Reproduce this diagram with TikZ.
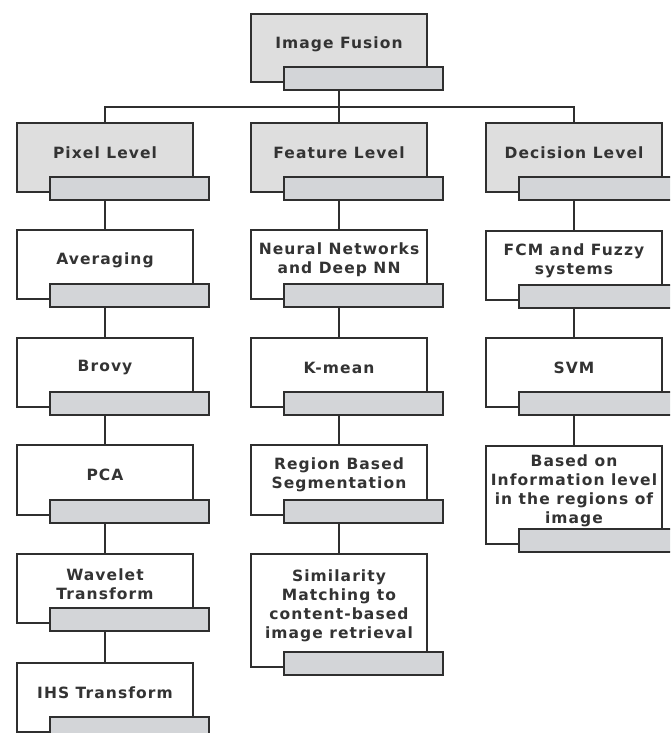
\documentclass[tikz,border=0pt]{standalone}
\usepackage{fontspec}
\newfontfamily\labfont{DejaVu Sans}[LetterSpace=7]
\definecolor{ink}{HTML}{2F2F2F}
\definecolor{txtc}{HTML}{333333}
\definecolor{lvlfill}{HTML}{DEDEDE}
\definecolor{barfill}{HTML}{D3D5D8}
\newcommand\fusebox[7]{%
  \node[boxst, fill=#6, minimum height=#4pt, anchor=north west] (#1) at (#2,#3) {};
  \node[barst] (#1b) at ({#2+33},{#3+#4-15}) {};
  \node[txt] (#1t) at ({#2+88},{#3+#5}) {#7};
}
\begin{document}
\begin{tikzpicture}[x=1pt,y=-1pt,
  boxst/.style={draw=ink, line width=2pt, minimum width=176pt, inner sep=0pt, outer sep=0pt},
  barst/.style={draw=ink, line width=2pt, fill=barfill, minimum width=159pt, minimum height=23pt, inner sep=0pt, outer sep=0pt, anchor=north west},
  txt/.style={font={\labfont\bfseries\fontsize{15.5}{19}\selectfont}, text=txtc, align=center, inner sep=0pt},
  conn/.style={draw=ink, line width=2pt}]
\useasboundingbox (0,0) rectangle (670,733);
\clip (0,0) rectangle (670,733);
\fill[white] (0,0) rectangle (670,733);
\coordinate (hub) at (339,107);
% top
\fusebox{top}{251}{14}{68}{30}{lvlfill}{Image Fusion}
% levels
\fusebox{pix}{17}{123}{69}{30}{lvlfill}{Pixel Level}
\fusebox{feat}{251}{123}{69}{30}{lvlfill}{Feature Level}
\fusebox{dec}{486}{123}{69}{30}{lvlfill}{Decision Level}
% pixel column
\fusebox{avg}{17}{230}{69}{30}{white}{Averaging}
\fusebox{brv}{17}{338}{69}{30}{white}{Brovy}
\fusebox{pca}{17}{445}{70}{30}{white}{PCA}
\fusebox{wav}{17}{554}{69}{30}{white}{Wavelet\\Transform}
\fusebox{ihs}{17}{663}{69}{30}{white}{IHS Transform}
% feature column
\fusebox{nn}{251}{230}{69}{30}{white}{Neural Networks\\and Deep NN}
\fusebox{km}{251}{338}{69}{30}{white}{K-mean}
\fusebox{rb}{251}{445}{70}{30}{white}{Region Based\\Segmentation}
\fusebox{sim}{251}{554}{113}{52}{white}{Similarity\\Matching to\\content-based\\image retrieval}
% decision column
\fusebox{fcm}{486}{231}{69}{30}{white}{FCM and Fuzzy\\systems}
\fusebox{svm}{486}{338}{69}{30}{white}{SVM}
\fusebox{info}{486}{446}{98}{45}{white}{Based on\\Information level\\in the regions of\\image}
% connectors
\draw[conn] (top.south |- topb.south) -- (feat.north);
\draw[conn] (pix.north) -- (pix.north |- hub) -- (dec.north |- hub) -- (dec.north);
\draw[conn] (pix.south |- pixb.south) -- (avg.north);
\draw[conn] (avg.south |- avgb.south) -- (brv.north);
\draw[conn] (brv.south |- brvb.south) -- (pca.north);
\draw[conn] (pca.south |- pcab.south) -- (wav.north);
\draw[conn] (wav.south |- wavb.south) -- (ihs.north);
\draw[conn] (feat.south |- featb.south) -- (nn.north);
\draw[conn] (nn.south |- nnb.south) -- (km.north);
\draw[conn] (km.south |- kmb.south) -- (rb.north);
\draw[conn] (rb.south |- rbb.south) -- (sim.north);
\draw[conn] (dec.south |- decb.south) -- (fcm.north);
\draw[conn] (fcm.south |- fcmb.south) -- (svm.north);
\draw[conn] (svm.south |- svmb.south) -- (info.north);
\end{tikzpicture}
\end{document}
